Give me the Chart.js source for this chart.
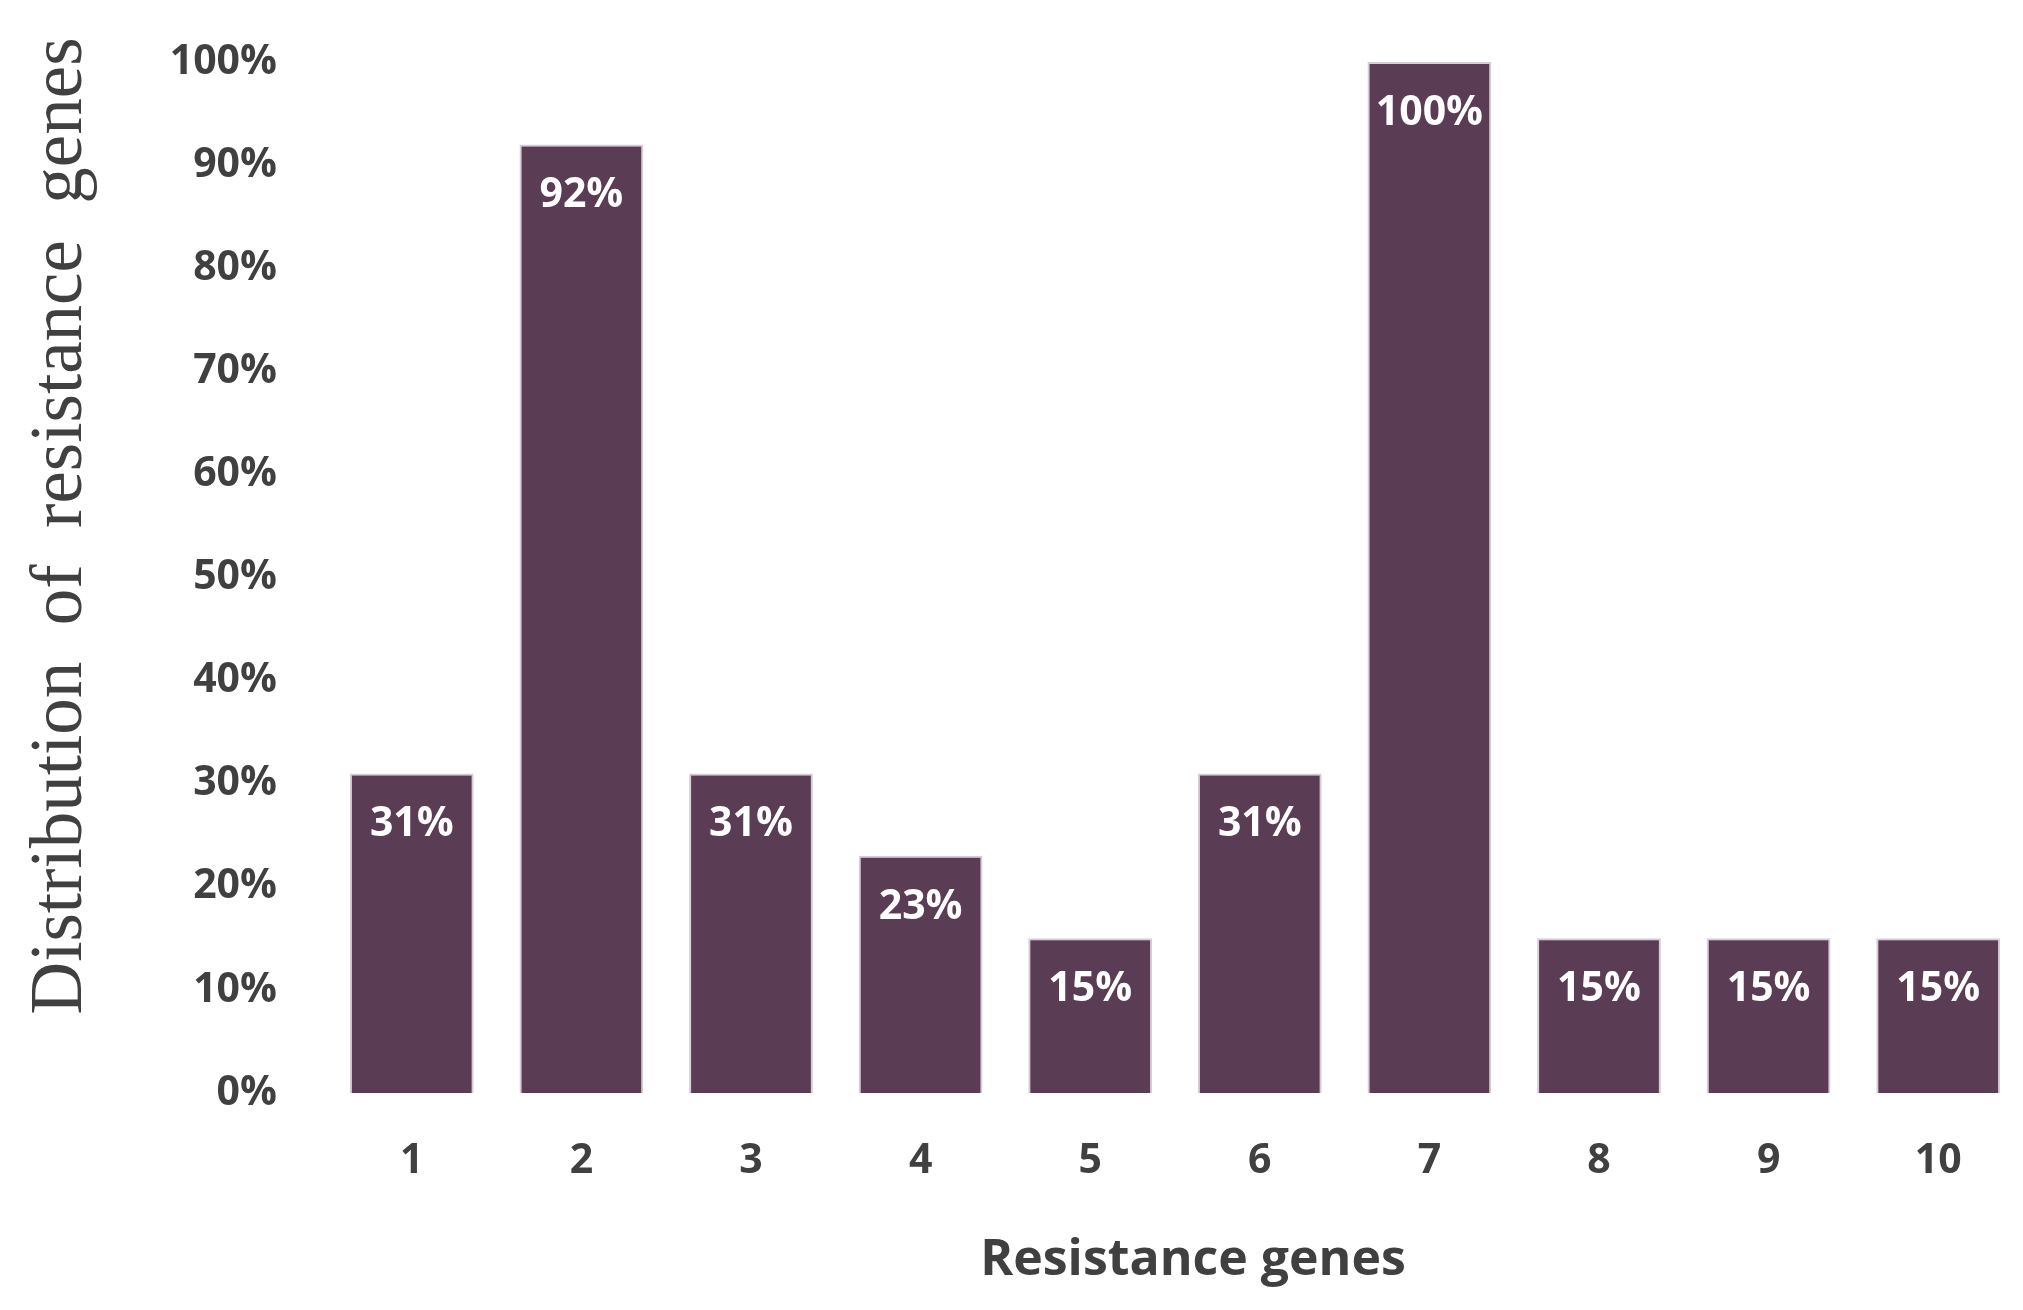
<!DOCTYPE html>
<html>
<head>
<meta charset="utf-8">
<script src="https://cdn.jsdelivr.net/npm/chart.js@4"></script>
<style>
  html, body { margin: 0; padding: 0; background: #fff; }
  #wrap { width: 2023px; height: 1310px; }
</style>
</head>
<body>
<div id="wrap"><canvas id="BarChart"></canvas></div>
<script>
var genes = ["1", "2", "3", "4", "5", "6", "7", "8", "9", "10"];
var share = [31, 92, 31, 23, 15, 31, 100, 15, 15, 15];
var yTitle = "Distribution  of  resistance  genes";
var xTitle = "Resistance genes";

var textColor = "#404040";

// white % labels inside the bars
var barLabels = {
  id: "barLabels",
  afterDatasetsDraw: function (chart) {
    var ctx = chart.ctx;
    var meta = chart.getDatasetMeta(0);
    ctx.save();
    ctx.fillStyle = "#ffffff";
    ctx.font = "bold 41px 'Open Sans'";
    ctx.textAlign = "center";
    ctx.textBaseline = "middle";
    meta.data.forEach(function (bar, i) {
      ctx.fillText(share[i] + "%", bar.x, bar.y + 51);
    });
    ctx.restore();
  }
};

// axis titles, placed where the source has them (slightly off-centre)
var axisTitles = {
  id: "axisTitles",
  afterDraw: function (chart) {
    var ctx = chart.ctx;
    ctx.save();
    ctx.fillStyle = textColor;
    ctx.textAlign = "center";
    ctx.textBaseline = "middle";

    ctx.font = "bold 50px 'Open Sans'";
    ctx.fillText(xTitle, 1193, 1261);

    ctx.translate(62, 526);
    ctx.rotate(-Math.PI / 2);
    ctx.font = "73px 'Liberation Serif'";
    ctx.fillText(yTitle, 0, 0);
    ctx.restore();
  }
};

new Chart("BarChart", {
  type: "bar",
  data: {
    labels: genes,
    datasets: [{
      data: share,
      backgroundColor: "#5a3c55",
      borderColor: "#d8ccd6",
      borderWidth: 2,
      barPercentage: 0.73,
      categoryPercentage: 1
    }]
  },
  options: {
    responsive: true,
    maintainAspectRatio: false,
    animation: false,
    layout: { padding: { top: 62, right: 0, bottom: 0, left: 0 } },
    plugins: {
      legend: { display: false },
      tooltip: { enabled: false }
    },
    scales: {
      x: {
        grid: { display: false },
        border: { display: false },
        ticks: {
          color: textColor,
          font: { family: "'Open Sans'", size: 41, weight: "bold" },
          padding: 36
        },
        afterFit: function (scale) {
          scale.height = 217;
          scale.paddingLeft = 0;
          scale.paddingRight = 0;
        }
      },
      y: {
        min: 0,
        max: 100,
        grid: { display: false },
        border: { display: false },
        ticks: {
          stepSize: 10,
          color: textColor,
          font: { family: "'Open Sans'", size: 41, weight: "bold" },
          padding: 42,
          callback: function (v) { return v + "%"; }
        },
        afterFit: function (scale) {
          scale.width = 327;
          scale.paddingTop = 0;
          scale.paddingBottom = 0;
        }
      }
    }
  },
  plugins: [barLabels, axisTitles]
});
</script>
</body>
</html>
